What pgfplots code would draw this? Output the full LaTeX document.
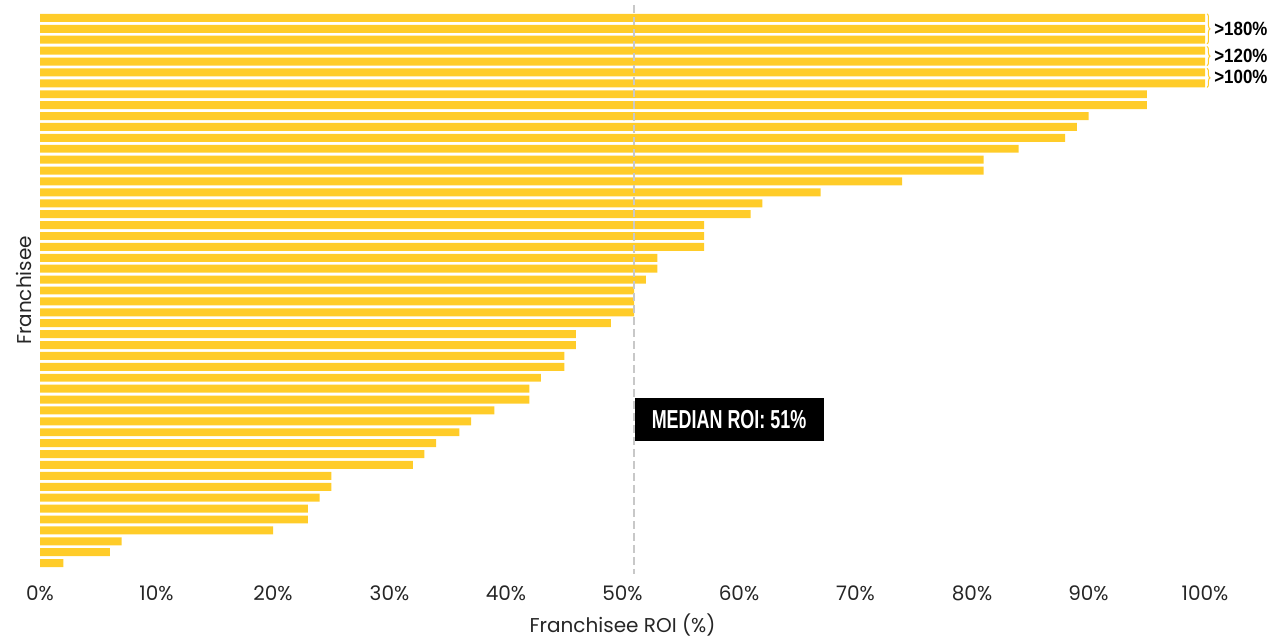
\documentclass[border=0pt]{standalone}
\usepackage{pgfplots}
\pgfplotsset{compat=1.18}
\usepackage{fontspec}
\setmainfont{Poppins}
\newfontfamily\labfont{Liberation Sans}
\usetikzlibrary{decorations.pathreplacing}
\definecolor{baryellow}{RGB}{255,204,41}
\definecolor{medgray}{RGB}{200,200,200}
\begin{document}
\begin{tikzpicture}
\useasboundingbox (-20pt,-34pt) rectangle (615.5pt,287pt);
\begin{axis}[
  scale only axis, width=582.5pt, height=283.5pt,
  xmin=0, xmax=100, ymin=0, ymax=52, y dir=reverse,
  axis line style={draw=none},
  major tick length=0pt,
  ytick=\empty,
  xtick={0,10,...,100},
  xticklabel={\pgfmathprintnumber{\tick}\%},
  /pgf/number format/assume math mode=true,
  xticklabel style={font=\fontsize{10}{12}\selectfont, text=black!85, anchor=center, yshift=-9.5pt},
  clip=false,
]
\addplot[xbar, fill=baryellow, draw=none, bar width=0.73] coordinates {
(100,1) (100,2) (100,3) (100,4) (100,5) (100,6) (100,7)
(95,8) (95,9) (90,10) (89,11) (88,12) (84,13) (81,14) (81,15)
(74,16) (67,17) (62,18) (61,19) (57,20) (57,21) (57,22)
(53,23) (53,24) (52,25) (51,26) (51,27) (51,28) (49,29)
(46,30) (46,31) (45,32) (45,33) (43,34) (42,35) (42,36)
(39,37) (37,38) (36,39) (34,40) (33,41) (32,42)
(25,43) (25,44) (24,45) (23,46) (23,47) (20,48)
(7,49) (6,50) (2,51)
};
\draw[medgray, line width=1pt, dash pattern=on 4pt off 2pt] (axis cs:51,-0.2) -- (axis cs:51,52);
\node[fill=black, text=white, anchor=west, minimum width=94.5pt, minimum height=21.5pt, inner sep=0pt,
  font=\labfont\bfseries\fontsize{13}{15}\selectfont] at (axis cs:51,37.8) {\scalebox{0.69}[1]{MEDIAN ROI: 51\%}};
\draw[decorate, decoration={brace, amplitude=1.5pt}, baryellow, line width=0.5pt] (axis cs:100.17,0.62) -- (axis cs:100.17,3.38);
\draw[decorate, decoration={brace, amplitude=1.5pt}, baryellow, line width=0.5pt] (axis cs:100.17,3.62) -- (axis cs:100.17,5.38);
\draw[decorate, decoration={brace, amplitude=1.5pt}, baryellow, line width=0.5pt] (axis cs:100.17,5.62) -- (axis cs:100.17,7.38);
\node[anchor=west, inner sep=0pt, font=\labfont\bfseries\fontsize{9.6}{11}\selectfont] at (axis cs:100.77,1.99) {\scalebox{0.88}[1]{>180\%}};
\node[anchor=west, inner sep=0pt, font=\labfont\bfseries\fontsize{9.6}{11}\selectfont] at (axis cs:100.77,4.51) {\scalebox{0.88}[1]{>120\%}};
\node[anchor=west, inner sep=0pt, font=\labfont\bfseries\fontsize{9.6}{11}\selectfont] at (axis cs:100.77,6.39) {\scalebox{0.88}[1]{>100\%}};
\node[anchor=center, font=\fontsize{10}{12}\selectfont, text=black!85] at ([yshift=-25.5pt]axis description cs:0.5,0) {Franchisee ROI (\%)};
\node[anchor=center, rotate=90, font=\fontsize{10}{12}\selectfont, text=black!85] at ([xshift=-8pt]axis description cs:0,0.5) {Franchisee};
\end{axis}
\end{tikzpicture}
\end{document}
